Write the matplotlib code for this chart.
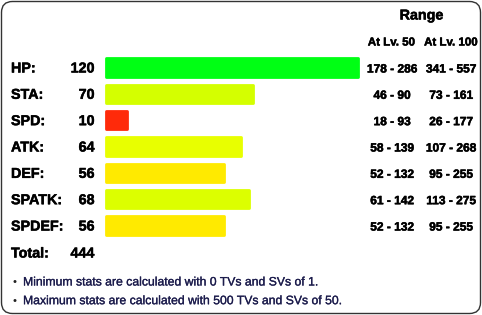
import matplotlib
matplotlib.use("Agg")
import matplotlib.pyplot as plt
import matplotlib.patheffects as pe
from matplotlib.patches import FancyBboxPatch
from matplotlib.transforms import blended_transform_factory

plt.rcParams["font.family"] = ["Liberation Sans", "DejaVu Sans"]

stats = ["HP:", "STA:", "SPD:", "ATK:", "DEF:", "SPATK:", "SPDEF:"]
values = [120, 70, 10, 64, 56, 68, 56]
colors = ["#00ff14", "#d4ff00", "#ff2a0a", "#e8ff00", "#ffea00", "#dcff00", "#ffea00"]
range_lv50 = ["178 - 286", "46 - 90", "18 - 93", "58 - 139", "52 - 132", "61 - 142", "52 - 132"]
range_lv100 = ["341 - 557", "73 - 161", "26 - 177", "107 - 268", "95 - 255", "113 - 275", "95 - 255"]
total = 444
notes = [
    "Minimum stats are calculated with 0 TVs and SVs of 1.",
    "Maximum stats are calculated with 500 TVs and SVs of 50.",
]

W, H = 482, 315
fig = plt.figure(figsize=(W / 100, H / 100), dpi=100)

# overlay in pixel coordinates
ax = fig.add_axes([0, 0, 1, 1])
ax.set_xlim(0, W)
ax.set_ylim(H, 0)
ax.axis("off")

ax.add_patch(FancyBboxPatch((1.5, 1.5), W - 3, H - 3,
                            boxstyle="round,pad=0,rounding_size=11",
                            facecolor="white", edgecolor="#333333", linewidth=1.0))

# bar area
n = len(stats)
row_top, row_bot = 54.3, 238.7
bar_left, bar_w = 106.4, 252.0
bx = fig.add_axes([bar_left / W, 1 - row_bot / H, bar_w / W, (row_bot - row_top) / H])
bx.set_xlim(0, max(values))
bx.set_ylim(n - 0.5, -0.5)
bx.axis("off")
bx.barh(range(n), values, height=0.69, color=colors, edgecolor=colors,
        linewidth=2.0, joinstyle="round", clip_on=False)

# slightly heavier glyphs, like the screen-rendered original
heavy = [pe.withStroke(linewidth=0.35, foreground="black")]
bold = dict(fontweight="bold", va="baseline", path_effects=heavy)

tr = blended_transform_factory(ax.transData, bx.transData)
off = 0.19
for i in range(n):
    ax.text(11, i + off, stats[i], transform=tr, fontsize=10.3, ha="left", **bold)
    ax.text(94.5, i + off, str(values[i]), transform=tr, fontsize=10.3, ha="right", **bold)
    ax.text(392, i + off, range_lv50[i], transform=tr, fontsize=8.6, ha="center", **bold)
    ax.text(451, i + off, range_lv100[i], transform=tr, fontsize=8.6, ha="center", **bold)

ax.text(421.5, 19.5, "Range", fontsize=10.3, ha="center", **bold)
ax.text(391.5, 45.5, "At Lv. 50", fontsize=8.3, ha="center", **bold)
ax.text(451, 45.5, "At Lv. 100", fontsize=8.3, ha="center", **bold)

ax.text(11, 257.5, "Total:", fontsize=10.3, ha="left", **bold)
ax.text(94.5, 257.5, str(total), fontsize=10.3, ha="right", **bold)

note_color = "#1c1c4c"
for j, note in enumerate(notes):
    y = 285.5 + j * 18.7
    ax.text(14.5, y - 3.3, "\u2022", fontsize=8, color="#222222", ha="center", va="center")
    ax.text(23, y, note, fontsize=8.8, color=note_color, ha="left", va="baseline",
            path_effects=[pe.withStroke(linewidth=0.2, foreground=note_color)])

fig.savefig("out.png", dpi=100)
